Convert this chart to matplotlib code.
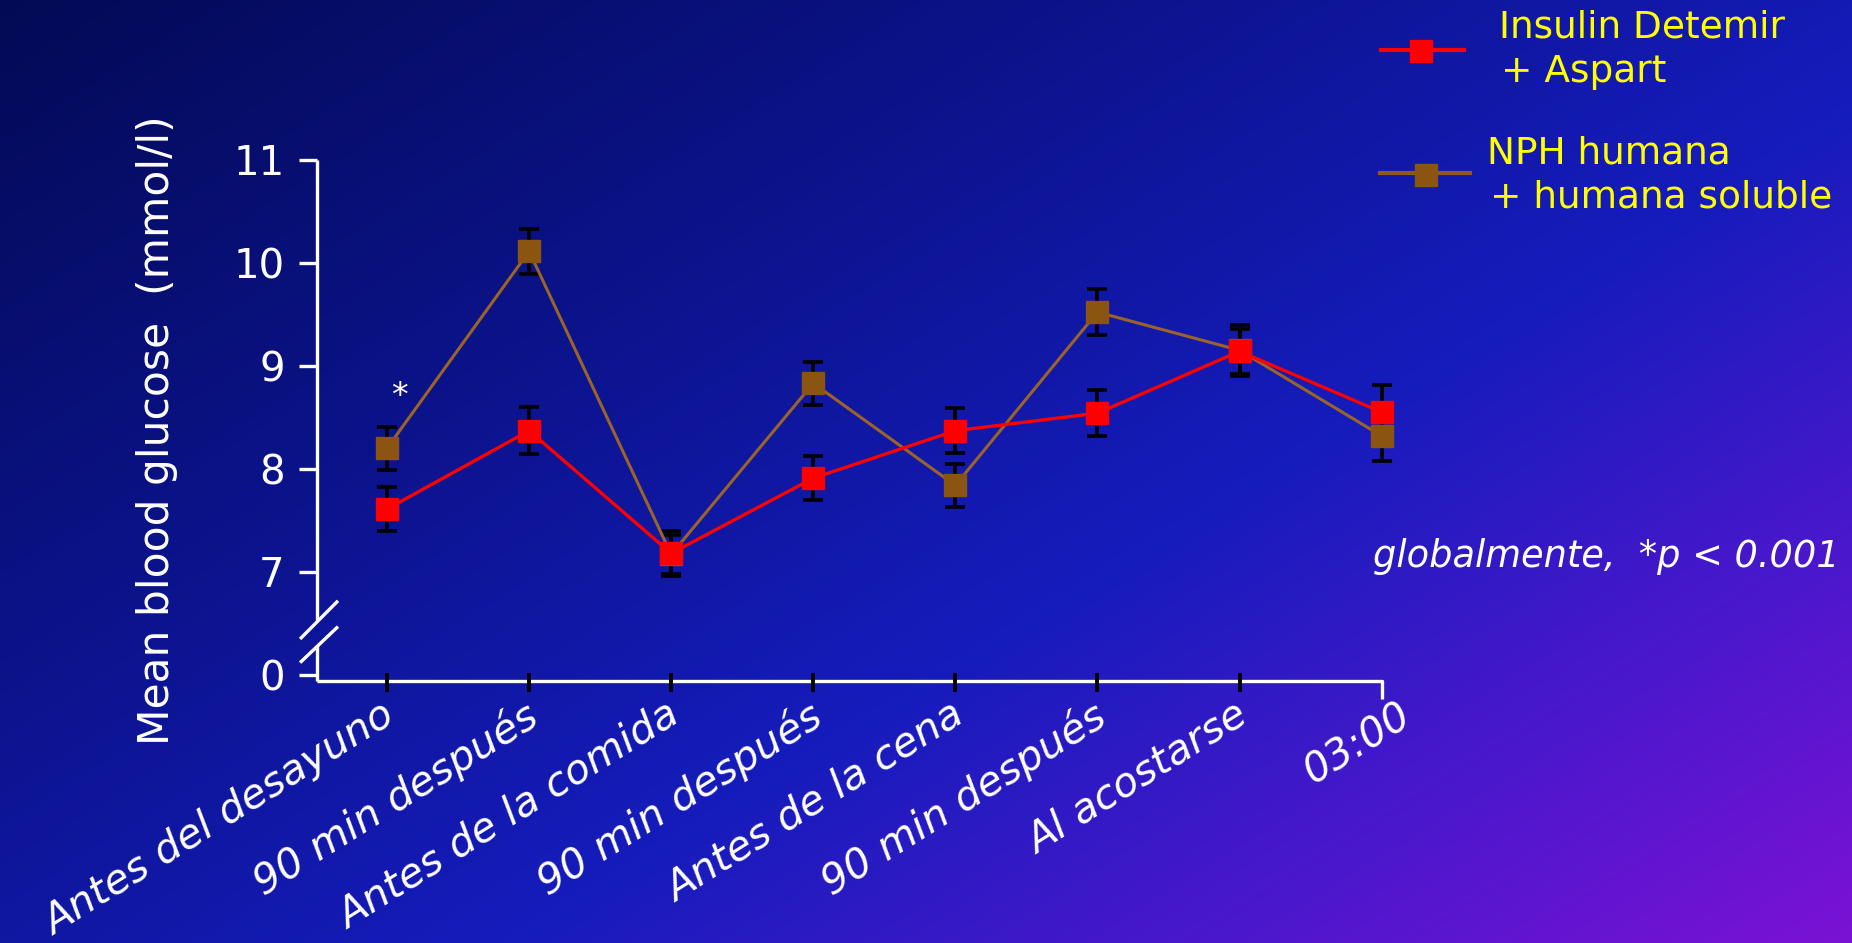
import numpy as np
import matplotlib
matplotlib.use("Agg")
import matplotlib.pyplot as plt
from matplotlib.colors import LinearSegmentedColormap
from matplotlib.lines import Line2D
import matplotlib.transforms as mtransforms

# time points and mean glucose (mmol/l) with SEM
labels = ["Antes del desayuno", "90 min después", "Antes de la comida",
          "90 min después", "Antes de la cena", "90 min después",
          "Al acostarse", "03:00"]
detemir = [7.61, 8.37, 7.18, 7.91, 8.37, 8.54, 9.14, 8.55]
detemir_err = [0.21, 0.23, 0.22, 0.21, 0.22, 0.22, 0.22, 0.26]
nph = [8.20, 10.11, 7.17, 8.83, 7.84, 9.52, 9.15, 8.32]
nph_err = [0.21, 0.22, 0.19, 0.21, 0.21, 0.22, 0.25, 0.24]

yticks = [6, 7, 8, 9, 10, 11]
ytick_labels = ["0", "7", "8", "9", "10", "11"]

W, H = 1852, 943
fig = plt.figure(figsize=(W / 100, H / 100), dpi=100)

# slide background: dark navy top-left -> blue -> purple bottom-right
bg = fig.add_axes([0, 0, 1, 1], zorder=-10)
gx, gy = np.meshgrid(np.linspace(0, 1, 400), np.linspace(0, 1, 200))
t = 0.55 * gx + 0.45 * gy
cmap = LinearSegmentedColormap.from_list(
    "slide", [(0.0, "#030a55"), (0.35, "#0c1490"), (0.6, "#161cbc"),
              (0.8, "#4818cc"), (1.0, "#7a12d4")])
bg.imshow(t, cmap=cmap, aspect="auto", extent=[0, W, H, 0], vmin=0, vmax=1)
bg.set_xlim(0, W)
bg.set_ylim(H, 0)
bg.axis("off")

ax = fig.add_axes([0.1710, 0.2776, 0.6057, 0.5860])
ax.set_facecolor("none")
x = np.arange(len(labels))
ax.set_xlim(-0.495, 7.4)
ax.set_ylim(5.94, 11.3)
for s in ax.spines.values():
    s.set_visible(False)

# error bars under everything
ax.errorbar(x, nph, yerr=nph_err, fmt="none", ecolor="black", elinewidth=2.6,
            capsize=7, capthick=2.6, zorder=2, clip_on=False)
ax.errorbar(x, detemir, yerr=detemir_err, fmt="none", ecolor="black", elinewidth=2.6,
            capsize=7, capthick=2.6, zorder=2, clip_on=False)
ax.plot(x, nph, color="#9a6428", lw=2.2, zorder=3, clip_on=False)
ax.plot(x, nph, ls="none", marker="s", ms=16.5, color="#8b5410", zorder=3.5, clip_on=False)
ax.plot(x, detemir, color="#ff0000", lw=2.4, zorder=4, clip_on=False)
ax.plot(x, detemir, ls="none", marker="s", ms=16.5, color="#ff0000", zorder=4.5, clip_on=False)

# axis lines with break between 0 and 7
axis_kw = dict(color="white", lw=2.4, clip_on=False, solid_capstyle="butt")
x0 = -0.495
ax.plot([x0, x0], [6.53, 11.0], **axis_kw)
ax.plot([x0, x0], [5.94, 6.29], **axis_kw)
ax.plot([-0.612, -0.345], [6.35, 6.72], **axis_kw)
ax.plot([-0.612, -0.345], [6.12, 6.47], **axis_kw)
ax.plot([x0, 7, 7], [5.94, 5.94, 5.77], **axis_kw)
ax.vlines(x[:-1], 5.84, 6.02, color="black", lw=2.8, clip_on=False, zorder=5)

ax.set_yticks(yticks, ytick_labels)
ax.tick_params(axis="y", colors="white", length=13, width=2.4, direction="out",
               labelsize=29, pad=10)
ax.set_xticks(x, labels)
ax.tick_params(axis="x", length=0, colors="white", labelsize=29.5, pad=10)
shift = mtransforms.ScaledTranslation(-0.06, 0, fig.dpi_scale_trans)
for lab in ax.get_xticklabels():
    lab.set_rotation(32)
    lab.set_ha("right")
    lab.set_rotation_mode("anchor")
    lab.set_fontstyle("italic")
    lab.set_transform(lab.get_transform() + shift)
last = ax.get_xticklabels()[-1]
last.set_transform(last.get_transform() +
                   mtransforms.ScaledTranslation(0.22, 0, fig.dpi_scale_trans))

fig.text(157 / W, 1 - 430 / H, "Mean blood glucose  (mmol/l)", rotation=90,
         ha="center", va="center", color="white", fontsize=30.5)

ax.text(0.085, 8.70, "*", ha="center", va="center", color="white", fontsize=24)

fig.text(1373 / W, 1 - 567 / H, "globalmente,  *p < 0.001", color="white",
         fontsize=26.5, fontstyle="italic", ha="left", va="baseline")

# legend drawn by hand in pixel space
lg = bg
lg.add_line(Line2D([1381, 1464], [50, 50], color="#ff0000", lw=3))
lg.plot([1421], [51], marker="s", ms=15.5, color="#ff0000", ls="none")
lg.add_line(Line2D([1380, 1470], [173, 173], color="#8b5a20", lw=3))
lg.plot([1426], [175], marker="s", ms=16, color="#8b5410", ls="none")
yellow = "#ffff00"
fig.text(1499 / W, 1 - 37 / H, "Insulin Detemir", color=yellow, fontsize=27, va="baseline")
fig.text(1501 / W, 1 - 82 / H, "+ Aspart", color=yellow, fontsize=27, va="baseline")
fig.text(1487 / W, 1 - 163 / H, "NPH humana", color=yellow, fontsize=27, va="baseline")
fig.text(1490 / W, 1 - 207 / H, "+ humana soluble", color=yellow, fontsize=27, va="baseline")

fig.savefig("out.png", dpi=100)
